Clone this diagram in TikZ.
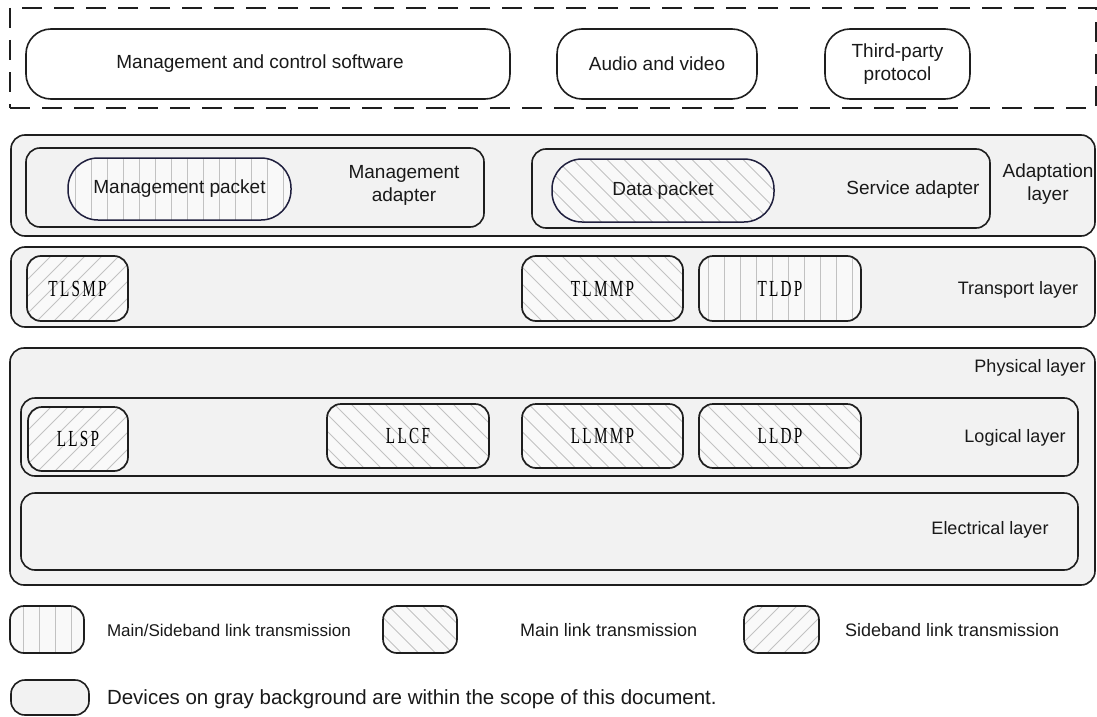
\documentclass[tikz,border=0pt]{standalone}
\usepackage{fontspec}
\setmainfont{Liberation Sans}
\newfontfamily\pktfont[FakeStretch=0.66,LetterSpace=10]{Liberation Serif}

\definecolor{layerfill}{HTML}{F2F2F2}
\definecolor{edge}{HTML}{1E1E1E}
\definecolor{navy}{HTML}{1F1F3D}
\definecolor{hatchgray}{HTML}{C2C2C2}
\definecolor{pktfill}{HTML}{F9F9F9}

\begin{document}
\begin{tikzpicture}[x=1pt,y=-1pt,
  every node/.style={inner sep=0pt, outer sep=0pt},
  txt/.style={font=\fontsize{18}{22}\selectfont, align=center, text=black!90},
  bigtxt/.style={font=\fontsize{19}{23}\selectfont, align=center, text=black!90},
  layerbox/.style={draw=edge, line width=1.6pt, fill=layerfill, rounded corners=14pt},
  appbox/.style={draw=edge, line width=1.6pt, fill=white, rounded corners=25pt, bigtxt},
  pkt/.style={draw=edge, line width=1.7pt, fill=pktfill, rounded corners=14pt,
    font=\pktfont\fontsize{23}{23}\selectfont, text=black},
  pktround/.style={draw=navy, line width=1.5pt, fill=pktfill, rounded corners=30pt, bigtxt},
  hatchline/.style={draw=hatchgray, line width=0.9pt},
  % vertical hatching: main/sideband link
  vhatch/.style={path picture={
    \foreach \i in {-248,-232,...,248}{
      \draw[hatchline] ([xshift=\i pt]path picture bounding box.north)
        -- ([xshift=\i pt]path picture bounding box.south);}}},
  % back-slash hatching: main link
  mhatch/.style={path picture={
    \foreach \i in {-306,-289,...,220}{
      \draw[hatchline] ([xshift=\i pt, yshift=60pt]path picture bounding box.center)
        -- ++(120pt,-120pt);}}},
  % slash hatching: sideband link
  shatch/.style={path picture={
    \foreach \i in {-306,-289,...,220}{
      \draw[hatchline] ([xshift=\i pt, yshift=-60pt]path picture bounding box.center)
        -- ++(120pt,120pt);}}},
  dashframe/.style={draw=edge, line width=1.8pt, dash pattern=on 20pt off 12pt},
]
\useasboundingbox (0,0) rectangle (1097,717);

% application software
\node[dashframe, minimum width=1086pt, minimum height=100pt] (apps) at (553,58) {};
\node[appbox, minimum width=484pt, minimum height=70pt] (mcs) at (268,64) {};
\node[bigtxt] (mcslbl) at (260,64) {Management and control software};
\node[appbox, minimum width=200pt, minimum height=70pt] (av) at (657,64) {Audio and video};
\node[appbox, minimum width=145pt, minimum height=70pt] (tpp) at (897.5,64) {Third-party\\protocol};

% adaptation layer
\node[layerbox, minimum width=1084pt, minimum height=101pt] (adapt) at (553,185.5) {};
\node[layerbox, minimum width=458pt, minimum height=79pt] (mgmtad) at (255,187.5) {};
\node[pktround, vhatch, minimum width=223pt, minimum height=62pt] (mpkt) at (179.5,189) {Management packet};
\node[bigtxt] (mgmtadlbl) at (404,185) {Management\\adapter};
\node[layerbox, minimum width=458pt, minimum height=79pt] (svcad) at (761,188.5) {};
\node[pktround, mhatch, minimum width=222pt, minimum height=63pt] (dpkt) at (663,190.5) {Data packet};
\node[bigtxt] (svcadlbl) at (913,190) {Service adapter};
\node[bigtxt] (adaptlbl) at (1048,184) {Adaptation\\layer};

% transport layer
\node[layerbox, minimum width=1084pt, minimum height=80pt] (transport) at (553,287) {};
\node[pkt, shatch, minimum width=101pt, minimum height=65pt] (tlsmp) at (77.5,288.5) {TLSMP};
\node[pkt, mhatch, minimum width=161pt, minimum height=65pt] (tlmmp) at (602.5,288.5) {TLMMP};
\node[pkt, vhatch, minimum width=162pt, minimum height=65pt] (tldp) at (780,288.5) {TLDP};
\node[txt] (transportlbl) at (1018,290) {Transport layer};

% physical layer
\node[layerbox, minimum width=1085pt, minimum height=237pt] (physical) at (552.5,466.5) {};
\node[txt] (physicallbl) at (1030,368) {Physical layer};
\node[layerbox, minimum width=1057pt, minimum height=78pt] (logical) at (549.5,437) {};
\node[pkt, shatch, minimum width=100pt, minimum height=64pt] (llsp) at (78,439) {LLSP};
\node[pkt, mhatch, minimum width=162pt, minimum height=64pt] (llcf) at (408,436) {LLCF};
\node[pkt, mhatch, minimum width=161pt, minimum height=64pt] (llmmp) at (602.5,436) {LLMMP};
\node[pkt, mhatch, minimum width=162pt, minimum height=64pt] (lldp) at (780,436) {LLDP};
\node[txt] (logicallbl) at (1015,438) {Logical layer};
\node[layerbox, minimum width=1057pt, minimum height=77pt] (electrical) at (549.5,531.5) {};
\node[txt] (electricallbl) at (990,530) {Electrical layer};

% legend
\node[pkt, vhatch, minimum width=74pt, minimum height=47pt] (lgboth) at (47,629.5) {};
\node[font=\fontsize{17}{20}\selectfont, text=black!90, anchor=west] (lgbothlbl) at (107,630) {Main/Sideband link transmission};
\node[pkt, mhatch, minimum width=74pt, minimum height=47pt] (lgmain) at (420,629.5) {};
\node[txt, anchor=west] (lgmainlbl) at (520,630) {Main link transmission};
\node[pkt, shatch, minimum width=75pt, minimum height=47pt] (lgside) at (781.5,629.5) {};
\node[txt, anchor=west] (lgsidelbl) at (845,630) {Sideband link transmission};
\node[layerbox, minimum width=78pt, minimum height=35pt] (lgscope) at (50,697.5) {};
\node[font=\fontsize{20.5}{24}\selectfont, text=black!90, anchor=west] (lgscopelbl) at (107,699) {Devices on gray background are within the scope of this document.};
\end{tikzpicture}
\end{document}
